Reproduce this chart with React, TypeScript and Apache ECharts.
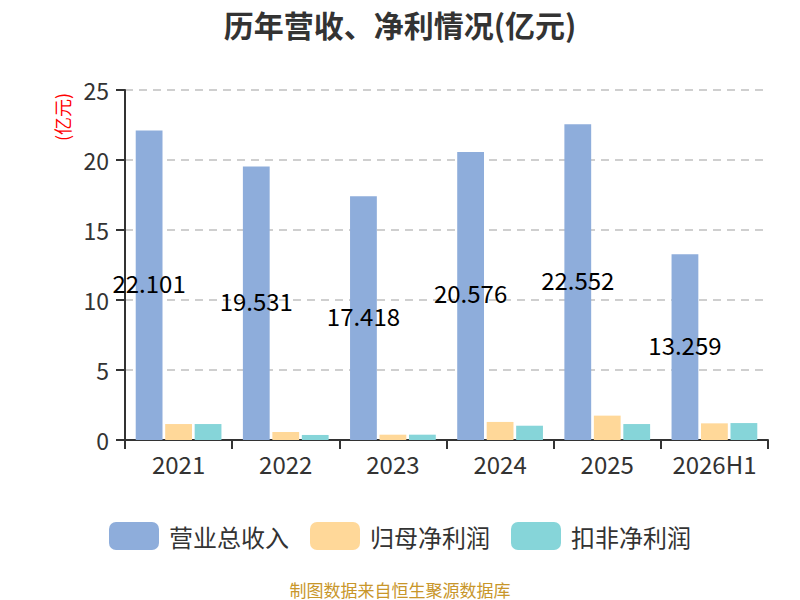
import React, { useEffect, useRef } from "react";
import * as echarts from "echarts";

const categories = ["2021", "2022", "2023", "2024", "2025", "2026H1"];
const revenue = [22.101, 19.531, 17.418, 20.576, 22.552, 13.259];
const netProfit = [1.14, 0.57, 0.38, 1.29, 1.74, 1.19];
const deductedProfit = [1.14, 0.36, 0.38, 1.02, 1.14, 1.21];
const seriesNames = ["营业总收入", "归母净利润", "扣非净利润"];
const colors = ["#8eaddb", "#ffd899", "#86d5d9"];

export default function App() {
  const ref = useRef<HTMLDivElement>(null);
  useEffect(() => {
    if (!ref.current) return;
    const chart = echarts.init(ref.current, undefined, { renderer: "svg" });
    const font = "'Noto Sans CJK SC', 'Noto Sans', sans-serif";
    chart.setOption({
      animation: false,
      textStyle: { fontFamily: font },
      title: {
        text: "历年营收、净利情况(亿元)",
        left: "center",
        top: 4,
        textStyle: { fontSize: 30, fontWeight: "bold", color: "#333", fontFamily: font },
      },
      grid: { left: 125, right: 32, top: 90, bottom: 160, containLabel: false },
      legend: {
        top: 517,
        left: "center",
        itemWidth: 50,
        itemHeight: 28,
        itemGap: 21,
        textStyle: { fontSize: 24, color: "#333", fontFamily: font, padding: [0, 0, 0, 5] },
        data: seriesNames,
      },
      graphic: [
        {
          type: "text",
          x: 62,
          y: 117,
          rotation: Math.PI / 2,
          style: {
            text: "(亿元)",
            fill: "#ff0000",
            fontSize: 18,
            fontFamily: font,
            align: "center",
            verticalAlign: "middle",
          },
        },
        {
          type: "text",
          x: 400,
          y: 589,
          style: {
            text: "制图数据来自恒生聚源数据库",
            fill: "#c8962a",
            fontSize: 17,
            fontFamily: font,
            align: "center",
            verticalAlign: "middle",
          },
        },
      ],
      xAxis: {
        type: "category",
        data: categories,
        axisLine: { lineStyle: { color: "#333", width: 2 } },
        axisTick: { show: true, length: 9, lineStyle: { color: "#333", width: 2 } },
        axisLabel: { fontSize: 24, color: "#333", margin: 11, fontFamily: font, interval: 0 },
      },
      yAxis: {
        type: "value",
        min: 0,
        max: 25,
        interval: 5,
        axisLine: { show: true, lineStyle: { color: "#333", width: 2 } },
        axisTick: { show: true, length: 9, lineStyle: { color: "#333", width: 2 } },
        axisLabel: { fontSize: 23, color: "#333", margin: 16, fontFamily: font },
        splitLine: { show: true, lineStyle: { type: [8, 6], color: "#c0c0c0", width: 1.5 } },
      },
      series: [
        {
          name: seriesNames[0],
          type: "bar",
          data: revenue,
          itemStyle: { color: colors[0] },
          barGap: "10%",
          barCategoryGap: "20%",
          label: {
            show: true,
            position: "inside",
            color: "#000",
            fontSize: 24,
            fontFamily: font,
            offset: [0, -3],
            formatter: (p: any) => p.value.toFixed(3),
          },
        },
        { name: seriesNames[1], type: "bar", data: netProfit, itemStyle: { color: colors[1] } },
        { name: seriesNames[2], type: "bar", data: deductedProfit, itemStyle: { color: colors[2] } },
      ],
    });
    return () => chart.dispose();
  }, []);
  return (
    <div
      ref={ref}
      style={{ position: "absolute", left: 0, top: 0, width: 800, height: 600 }}
    />
  );
}
